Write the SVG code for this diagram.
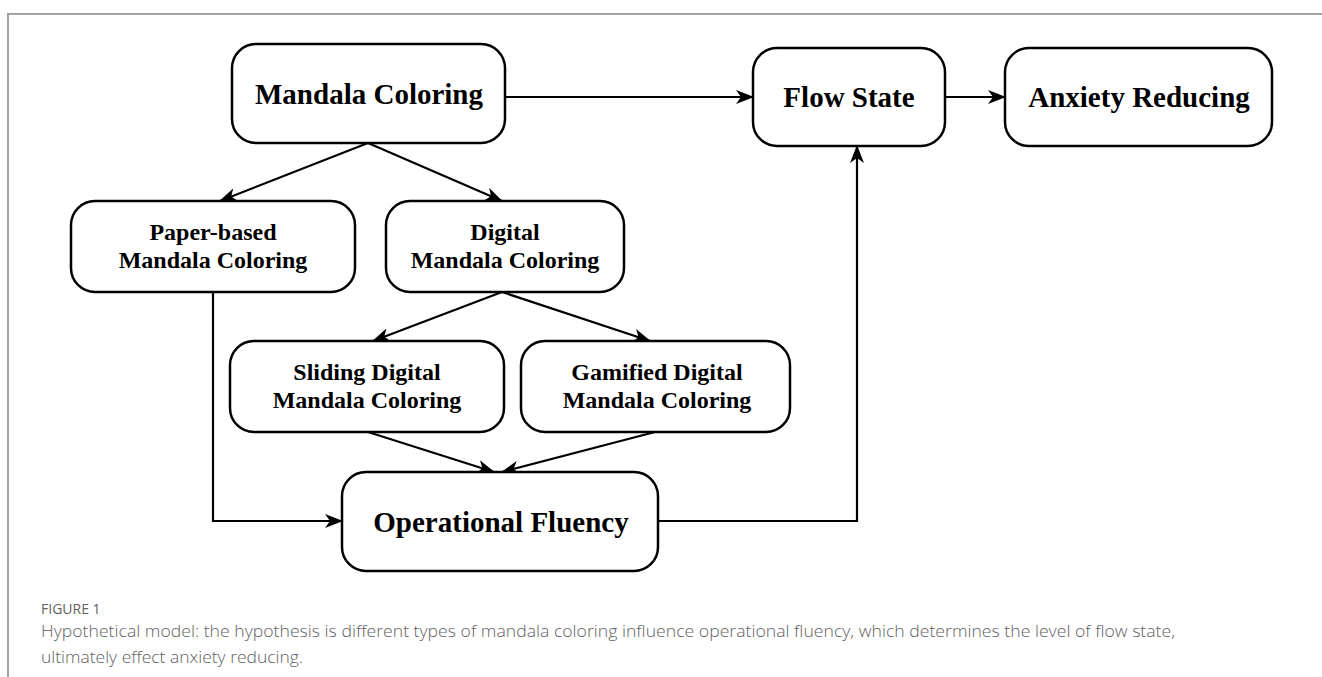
<svg xmlns="http://www.w3.org/2000/svg" width="1322" height="677" viewBox="0 0 1322 677">
  <defs>
    <marker id="arrow" viewBox="0 0 18 14" refX="17" refY="7" markerWidth="18" markerHeight="14" markerUnits="userSpaceOnUse" orient="auto">
      <path d="M0,0 L18,7 L0,14 L5,7 Z" fill="#000"/>
    </marker>
    <style>
      .box { fill: #fff; stroke: #000; stroke-width: 2.5; }
      .label { font-family: "Liberation Serif", "Times New Roman", serif; font-weight: bold; fill: #000; text-anchor: middle; }
      .big { font-size: 29px; }
      .small { font-size: 24px; }
      .edge { fill: none; stroke: #000; stroke-width: 2.2; marker-end: url(#arrow); }
      .frame { fill: none; stroke: #a3a3a3; stroke-width: 2; }
      .caption { font-family: "Open Sans", "Liberation Sans", sans-serif; fill: #616161; }
    </style>
  </defs>

  <rect width="1322" height="677" fill="#fff"/>

  <!-- figure frame -->
  <path class="frame" d="M8,677 V14 H1322"/>

  <!-- connectors -->
  <g id="connectors">
    <path class="edge" d="M505,97 H753"/>
    <path class="edge" d="M945,97 H1005"/>
    <path class="edge" d="M368,143 L220,201"/>
    <path class="edge" d="M368,143 L502,201"/>
    <path class="edge" d="M502,292 L373,341"/>
    <path class="edge" d="M502,292 L650,341"/>
    <path class="edge" d="M368,432 L494,472"/>
    <path class="edge" d="M655,432 L502,472"/>
    <path class="edge" d="M213,292 V521 H342"/>
    <path class="edge" d="M658,521 H857 V146"/>
  </g>

  <g id="mandala-coloring">
    <rect class="box" x="232" y="44" width="273" height="99" rx="24"/>
    <text class="label big" x="369" y="104">Mandala Coloring</text>
  </g>

  <g id="flow-state">
    <rect class="box" x="753" y="48" width="192" height="98" rx="24"/>
    <text class="label big" x="849" y="107">Flow State</text>
  </g>

  <g id="anxiety-reducing">
    <rect class="box" x="1005" y="48" width="267" height="98" rx="24"/>
    <text class="label big" x="1139" y="107">Anxiety Reducing</text>
  </g>

  <g id="paper-based">
    <rect class="box" x="71" y="201" width="284" height="91" rx="24"/>
    <text class="label small" x="213" y="240">Paper-based</text>
    <text class="label small" x="213" y="268">Mandala Coloring</text>
  </g>

  <g id="digital">
    <rect class="box" x="386" y="201" width="238" height="91" rx="24"/>
    <text class="label small" x="505" y="240">Digital</text>
    <text class="label small" x="505" y="268">Mandala Coloring</text>
  </g>

  <g id="sliding-digital">
    <rect class="box" x="230" y="341" width="274" height="91" rx="24"/>
    <text class="label small" x="367" y="380">Sliding Digital</text>
    <text class="label small" x="367" y="408">Mandala Coloring</text>
  </g>

  <g id="gamified-digital">
    <rect class="box" x="521" y="341" width="269" height="91" rx="24"/>
    <text class="label small" x="657" y="380">Gamified Digital</text>
    <text class="label small" x="657" y="408">Mandala Coloring</text>
  </g>

  <g id="operational-fluency">
    <rect class="box" x="342" y="472" width="316" height="99" rx="24"/>
    <text class="label big" x="501" y="532">Operational Fluency</text>
  </g>

  <!-- caption -->
  <g id="caption">
    <text class="caption" x="41" y="614" font-size="14" font-weight="500" fill="#6b6b6b">FIGURE 1</text>
    <text class="caption" x="41" y="637" font-size="17" font-weight="300" textLength="1134" lengthAdjust="spacingAndGlyphs">Hypothetical model: the hypothesis is different types of mandala coloring influence operational fluency, which determines the level of flow state,</text>
    <text class="caption" x="41" y="663" font-size="17" font-weight="300" textLength="262" lengthAdjust="spacingAndGlyphs">ultimately effect anxiety reducing.</text>
  </g>
</svg>
